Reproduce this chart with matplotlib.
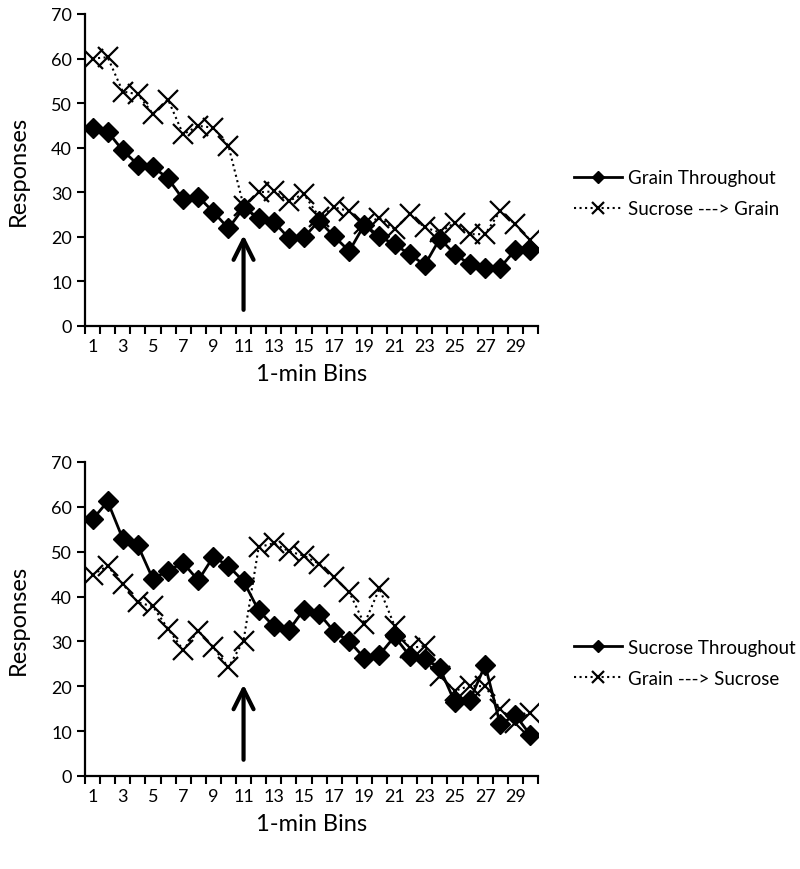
import numpy as np
import matplotlib
matplotlib.use("Agg")
import matplotlib.pyplot as plt

plt.rcParams['font.family'] = ['Lato', 'DejaVu Sans']

bins = np.arange(1, 31)
tick_labels = [str(b) for b in range(1, 31, 2)]

# top panel
grain_throughout = [44.5, 43.6, 39.4, 36.2, 35.7, 33.1, 28.4, 29.0, 25.6, 21.9,
                    26.5, 24.3, 23.4, 19.7, 19.9, 23.6, 20.1, 16.8, 22.7, 20.1,
                    18.3, 16.1, 13.7, 19.6, 16.1, 13.8, 13.0, 13.1, 17.1, 17.1]
sucrose_to_grain = [60.0, 60.3, 52.6, 52.0, 47.6, 50.8, 43.0, 44.9, 44.5, 40.4,
                    27.0, 30.0, 30.2, 28.1, 29.6, 24.5, 26.6, 25.8, 22.8, 24.3,
                    21.7, 25.1, 22.1, 21.0, 23.2, 20.6, 20.6, 25.8, 22.8, 19.2]

# bottom panel
sucrose_throughout = [57.2, 61.2, 52.9, 51.4, 43.9, 45.8, 47.5, 43.6, 48.9, 46.8,
                      43.4, 36.9, 33.4, 32.5, 37.1, 36.2, 32.2, 30.0, 26.3, 27.0,
                      31.1, 26.8, 26.1, 24.0, 16.4, 17.0, 24.7, 11.5, 13.6, 9.1]
grain_to_sucrose = [44.9, 46.8, 42.8, 38.7, 37.8, 32.8, 28.1, 32.4, 28.7, 24.2,
                    30.2, 51.0, 51.9, 50.1, 49.1, 47.3, 44.3, 41.0, 33.9, 41.8,
                    33.5, 28.5, 29.0, 22.3, 19.0, 20.1, 20.0, 14.9, 11.9, 14.1]

switch_bin = 11

fig = plt.figure(figsize=(8, 8.7), dpi=100)
ax1 = fig.add_axes([85 / 800, 1 - 327 / 870, 453 / 800, 312 / 870])
ax2 = fig.add_axes([85 / 800, 1 - 777 / 870, 453 / 800, 314 / 870])


def draw_panel(ax, solid, dotted, solid_name, dotted_name, legend_y):
    ax.plot(bins, solid, color='black', lw=2, marker='D', ms=10,
            label=solid_name, zorder=3)
    ax.plot(bins, dotted, color='black', lw=1.5, ls=':', marker='x', ms=15,
            mew=1.6, label=dotted_name, zorder=2)
    ax.annotate('', xy=(switch_bin, 21), xytext=(switch_bin, 3),
                arrowprops=dict(arrowstyle='->', lw=3, color='black',
                                mutation_scale=36))
    ax.set_xlim(0.5, 30.5)
    ax.set_ylim(0, 70)
    ax.set_yticks(range(0, 71, 10))
    ax.set_xticks(range(1, 31, 2))
    ax.set_xticklabels(tick_labels)
    ax.set_xticks(np.arange(0.5, 31, 1), minor=True)
    ax.tick_params(axis='x', which='major', length=0, pad=9, labelsize=13)
    ax.tick_params(axis='x', which='minor', length=6, width=1.5, direction='out')
    ax.tick_params(axis='y', length=6, width=1.5, direction='out', labelsize=13)
    for s in ['top', 'right']:
        ax.spines[s].set_visible(False)
    for s in ['left', 'bottom']:
        ax.spines[s].set_linewidth(1.6)
    ax.set_ylabel('Responses', fontsize=17, labelpad=16)
    ax.set_xlabel('1-min Bins', fontsize=17, labelpad=6)
    ax.legend(loc='center left', bbox_to_anchor=(1.062, legend_y), frameon=False,
              fontsize=13.5, handlelength=2.6, handletextpad=0.3,
              markerscale=0.6, labelspacing=0.75, borderaxespad=0)


draw_panel(ax1, grain_throughout, sucrose_to_grain,
           'Grain Throughout', 'Sucrose ---> Grain', 0.425)
draw_panel(ax2, sucrose_throughout, grain_to_sucrose,
           'Sucrose Throughout', 'Grain ---> Sucrose', 0.36)

fig.savefig('out.png', dpi=100)
